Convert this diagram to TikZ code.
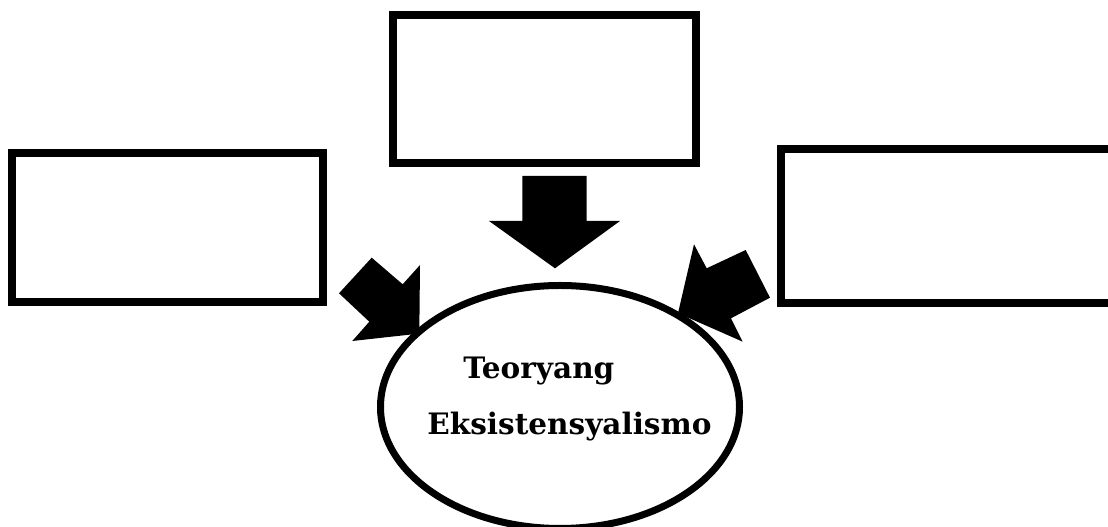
\documentclass[tikz,border=0pt]{standalone}
\usepackage{fontspec}
\setmainfont{DejaVu Serif}
\usetikzlibrary{shapes.geometric}

\tikzset{
	box/.style={draw, line width=0.16cm, minimum width=#1, inner sep=0pt},
	bigarrow/.style={fill=black},
	label/.style={font=\fontsize{16.8}{20}\selectfont\bfseries, inner sep=0pt, anchor=base west}
}

\begin{document}
\begin{tikzpicture}

	\clip (0,0) rectangle (22.16,10.54);

	% the three empty boxes
	\node [box=6.06cm, minimum height=2.96cm] (top) at (10.88,8.76) {};
	\node [box=6.23cm, minimum height=2.98cm] (left) at (3.35,5.98) {};
	\node [box=7.38cm, minimum height=3.08cm] (right) at (19.31,6.015) {};

	% block arrows
	\fill [bigarrow] (10.446,7.02) -- (11.734,7.02) -- (11.734,6.12) -- (12.4,6.12) -- (11.1,5.174) -- (9.78,6.12) -- (10.446,6.12) -- cycle;
	\fill [bigarrow] (7.434,5.386) -- (8.054,4.854) -- (8.4,5.24) -- (8.386,3.868) -- (7.046,3.72) -- (7.386,4.106) -- (6.78,4.674) -- cycle;
	\fill [bigarrow] (14.914,5.54) -- (15.4,4.586) -- (14.62,4.174) -- (14.854,3.706) -- (13.56,4.276) -- (13.88,5.654) -- (14.134,5.174) -- cycle;

	% theory
	\node [ellipse, draw, fill=white, line width=0.14cm, minimum width=7.18cm, minimum height=4.86cm, inner sep=0pt] (theory) at (11.2,2.4) {};
	\node [label] (word1) at (9.26,2.96) {Teoryang};
	\node [label] (word2) at (8.54,1.84) {Eksistensyalismo};

\end{tikzpicture}
\end{document}
